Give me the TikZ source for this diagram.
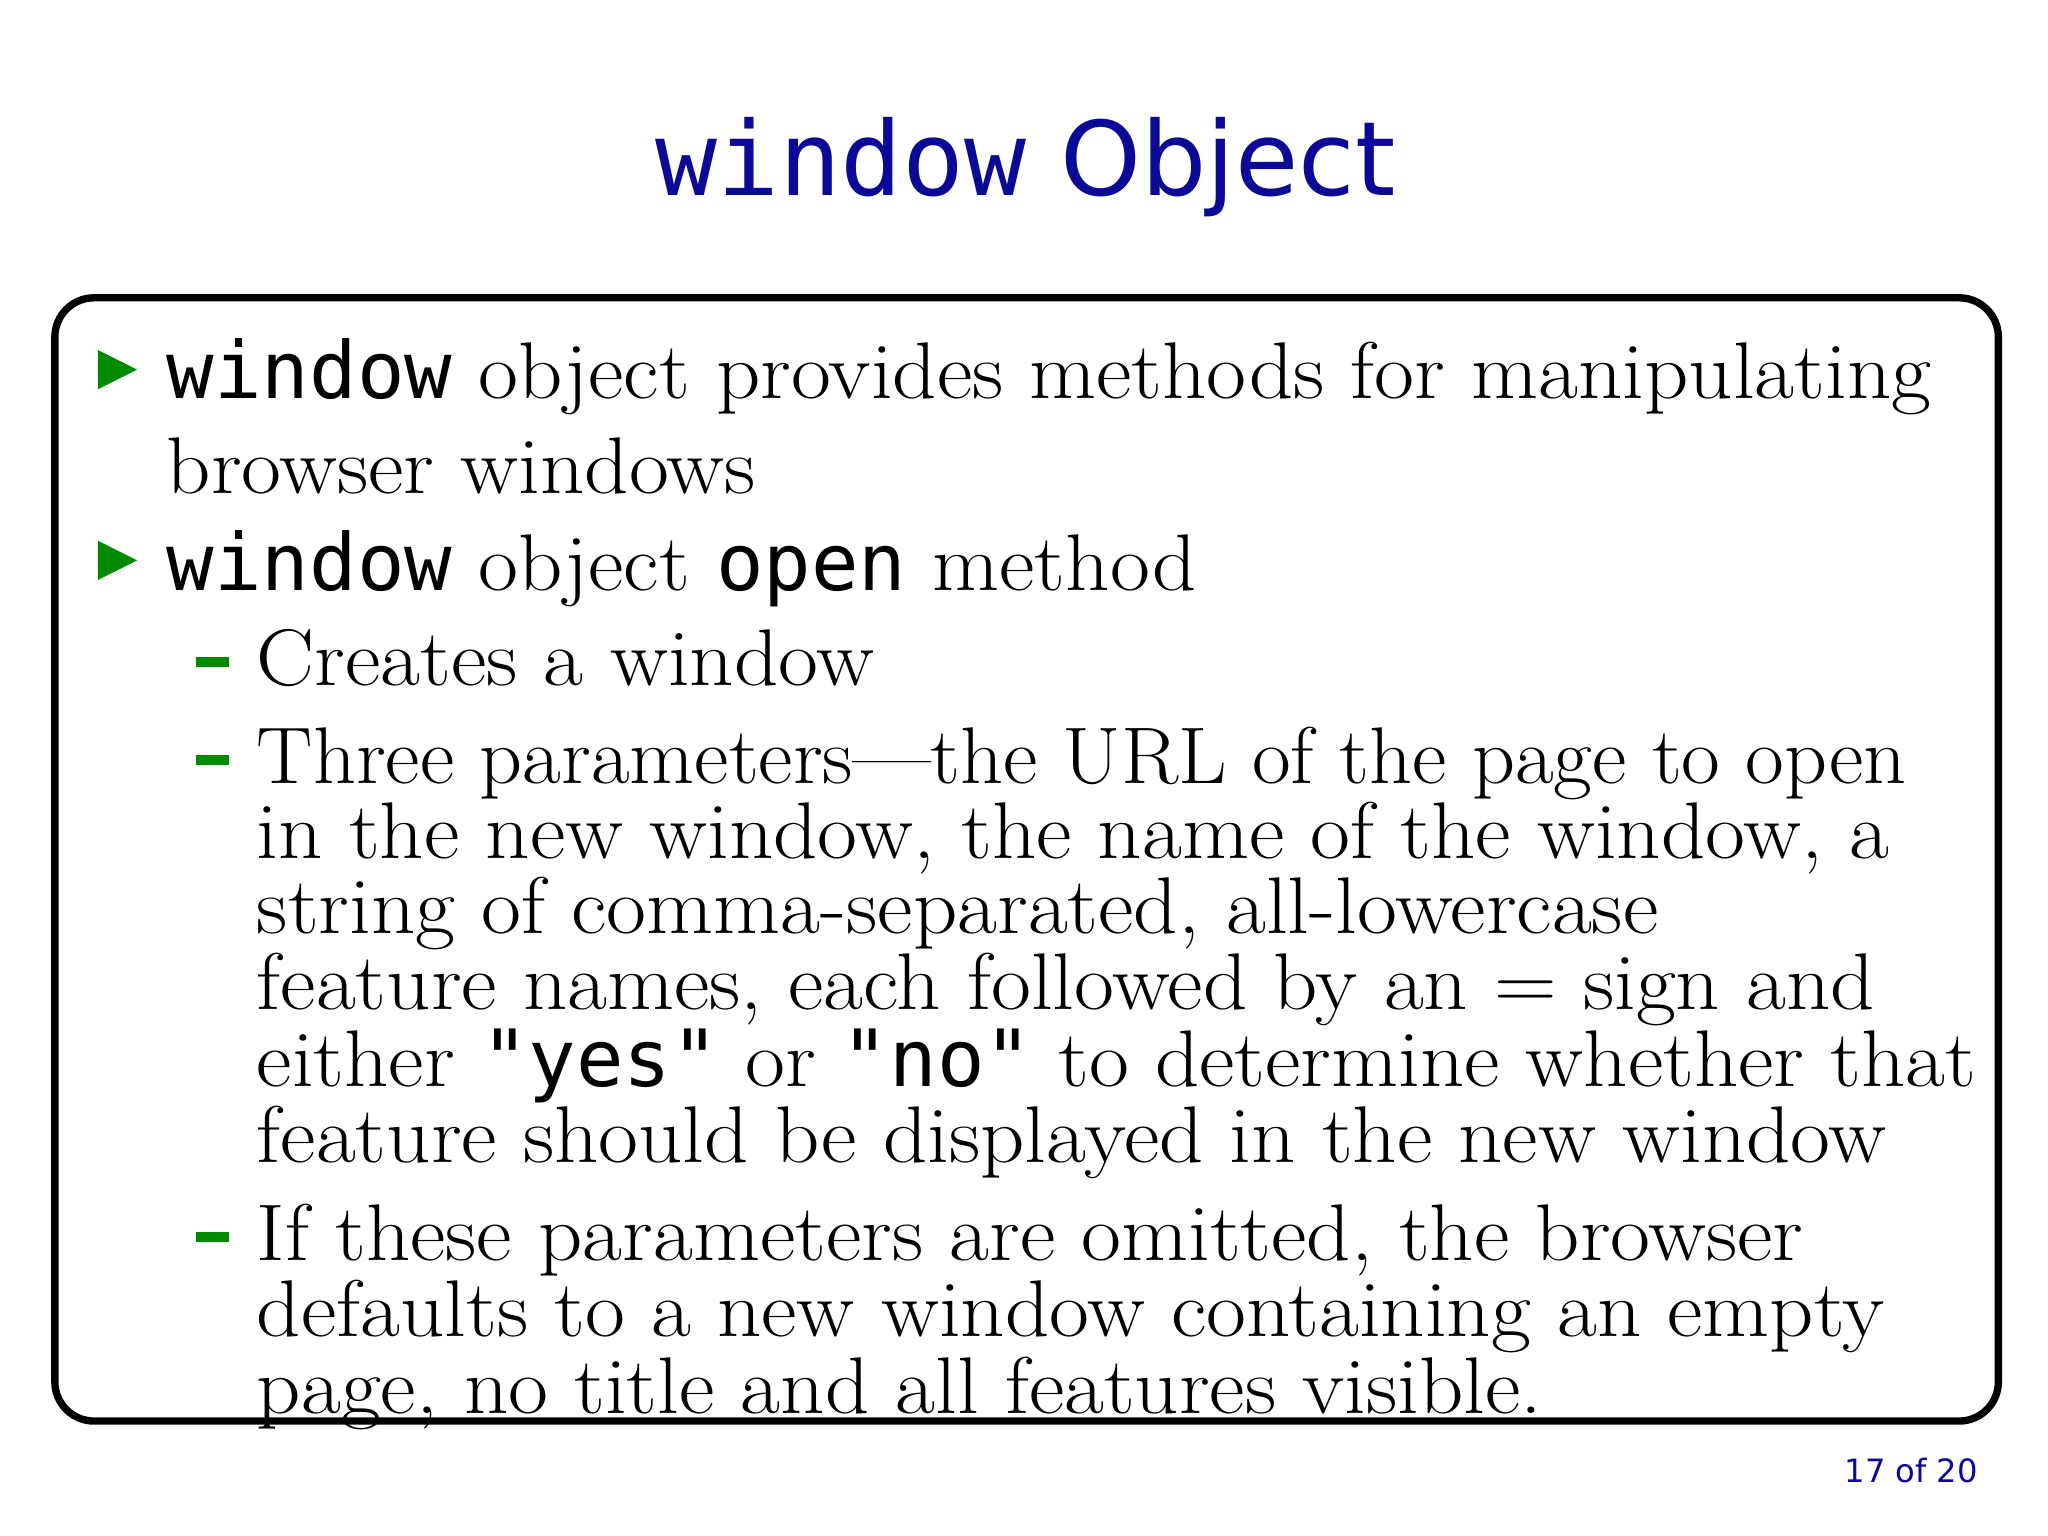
\documentclass[tikz,border=0pt]{standalone}
\usepackage{fontspec}
\setmainfont{Latin Modern Roman}[FakeStretch=1.08]
\newfontfamily\monofont{DejaVu Sans Mono}
\newfontfamily\titlesans{DejaVu Sans}
\definecolor{titleblue}{HTML}{0A0A96}
\definecolor{bulgreen}{HTML}{008A00}
\tikzset{
 txt/.style={anchor=base west,inner sep=0pt,font=\fontsize{17.5}{20}\selectfont},
 bul/.style={fill=bulgreen,draw=none},
 dsh/.style={draw=bulgreen,line width=2.2pt}
}
\newcommand{\mt}[1]{{\monofont\fontsize{17.2}{20}\selectfont #1}}
\begin{document}
\begin{tikzpicture}[x=0.01cm,y=-0.01cm]
\useasboundingbox (0,0) rectangle (1568,1176);
\node[anchor=base,inner sep=0pt,text=titleblue,font=\fontsize{22.4}{26}\selectfont] (title) at (785,150) {{\monofont window} {\titlesans Object}};
\draw[line width=1.6pt,rounded corners=0.3cm] (42,228) rectangle (1530,1088);
\fill[bul] (75,268) -- (105,283) -- (75,298) -- cycle;
\fill[bul] (75,414) -- (105,429) -- (75,444) -- cycle;
\draw[dsh] (150,507) -- (175,507);
\draw[dsh] (150,582) -- (175,582);
\draw[dsh] (150,947) -- (175,947);
\node[txt] (l1) at (127,305) {\mt{window} object provides methods for manipulating};
\node[txt] (l2) at (127,378) {browser windows};
\node[txt] (l3) at (127,452) {\mt{window} object \mt{open} method};
\node[txt] (l4) at (196,525) {Creates a window};
\node[txt,xscale=0.97,transform shape] (l5) at (196,600) {Three parameters---the URL of the page to open};
\node[txt] (l6) at (196,657) {in the new window, the name of the window, a};
\node[txt] (l7) at (196,715) {string of comma-separated, all-lowercase};
\node[txt] (l8) at (196,773) {feature names, each followed by an = sign and};
\node[txt] (l9) at (196,832) {either \mt{"yes"} or \mt{"no"} to determine whether that};
\node[txt] (l10) at (196,890) {feature should be displayed in the new window};
\node[txt] (l11) at (196,965) {If these parameters are omitted, the browser};
\node[txt] (l12) at (196,1023) {defaults to a new window containing an empty};
\node[txt] (l13) at (196,1082) {page, no title and all features visible.};
\node[anchor=base east,inner sep=0pt,text=titleblue,font=\titlesans\fontsize{7}{8}\selectfont] (pg) at (1515,1135) {17 of 20};
\end{tikzpicture}
\end{document}
